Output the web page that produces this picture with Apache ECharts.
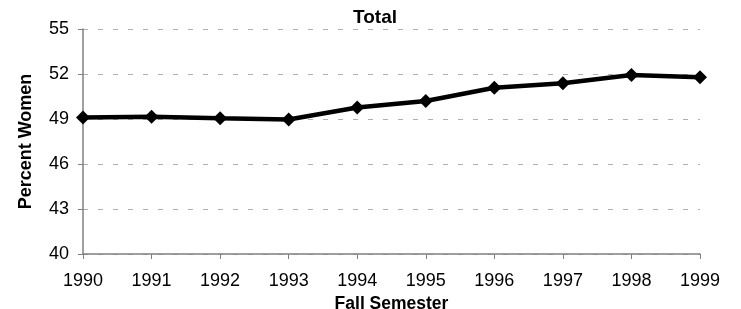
<!DOCTYPE html>
<html>
<head>
<meta charset="utf-8">
<script src="https://cdn.jsdelivr.net/npm/echarts@6/dist/echarts.min.js"></script>
<style>
html,body{margin:0;padding:0;background:#fff;}
#main{width:741px;height:309px;}
</style>
</head>
<body>
<div id="main"></div>
<script>
// data
var years = ['1990','1991','1992','1993','1994','1995','1996','1997','1998','1999'];
var pctWomen = [49.1, 49.15, 49.05, 48.97, 49.77, 50.2, 51.08, 51.38, 51.93, 51.78];
var yMin = 40, yMax = 55, yStep = 3;

var myChart = echarts.init(document.getElementById('main'));
var font = 'Liberation Sans, Arial, sans-serif';
var option = {
    animation: false,
    title: {
        text: 'Total',
        left: 370,
        top: 3,
        textAlign: 'center',
        textStyle: {fontFamily: font, fontSize: 19, fontWeight: 'bold', color: '#000'}
    },
    grid: {left: 83, right: 41, top: 29, bottom: 55, containLabel: false, outerBoundsMode: 'none'},
    xAxis: {
        type: 'category',
        data: years,
        boundaryGap: false,
        name: 'Fall Semester',
        nameLocation: 'middle',
        nameGap: 35,
        nameTextStyle: {fontFamily: font, fontSize: 17.5, fontWeight: 'bold', color: '#000'},
        axisLine: {lineStyle: {color: '#808080', width: 1.5}},
        axisTick: {show: true, length: 5, inside: false, lineStyle: {color: '#808080'}},
        axisLabel: {fontFamily: font, fontSize: 18, color: '#000', margin: 18},
        splitLine: {show: false}
    },
    yAxis: {
        type: 'value',
        min: yMin,
        max: yMax,
        interval: yStep,
        name: 'Percent Women',
        nameLocation: 'middle',
        nameGap: 48,
        nameTextStyle: {fontFamily: font, fontSize: 18, fontWeight: 'bold', color: '#000'},
        axisLine: {show: true, lineStyle: {color: '#808080', width: 1.5}},
        axisTick: {show: true, length: 5, lineStyle: {color: '#808080'}},
        axisLabel: {fontFamily: font, fontSize: 18, color: '#000', margin: 14},
        splitLine: {show: true, lineStyle: {color: '#b0b0b0', type: [5, 10], width: 1}}
    },
    series: [{
        type: 'line',
        data: pctWomen,
        symbol: 'diamond',
        symbolSize: 14,
        lineStyle: {color: '#000', width: 4.5},
        itemStyle: {color: '#000'}
    }]
};
myChart.setOption(option);
</script>
</body>
</html>
